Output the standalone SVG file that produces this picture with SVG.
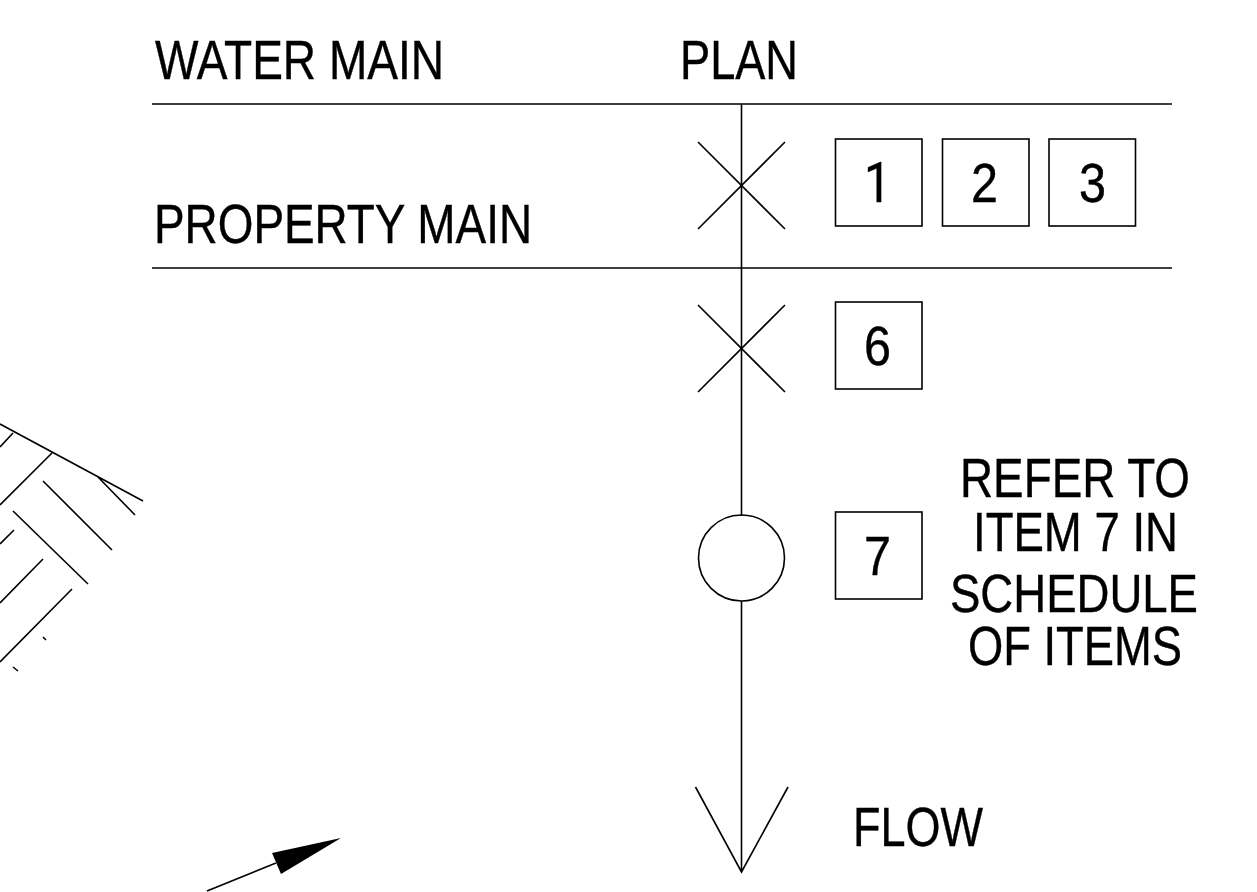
<svg xmlns="http://www.w3.org/2000/svg" width="1257" height="892" viewBox="0 0 1257 892">
<style>
.l{fill:none;stroke:#000;stroke-width:1.6}
text{font-family:"Liberation Sans",Arial,sans-serif;fill:#000;font-size:56px;stroke:#000;stroke-width:.4}
.r{font-family:Roboto,"Liberation Sans",sans-serif;font-size:55px}
</style>
<rect width="1257" height="892" fill="#fff"/>
<g id="connectors">
<path class="l" d="M152 104H1172M152 268H1172M741.500 104V516M741.500 601V872M695.500 787L741.500 872L788 787"/>
<path class="l" d="M698 142L785 229M785 142L698 229M698 305L785 392M785 305L698 392"/>
</g>
<g id="labels">
<text x="155" y="79" textLength="289" lengthAdjust="spacingAndGlyphs">WATER MAIN</text>
<text x="680" y="79" textLength="118" lengthAdjust="spacingAndGlyphs">PLAN</text>
<text x="154" y="243" textLength="378" lengthAdjust="spacingAndGlyphs">PROPERTY MAIN</text>
<text x="960" y="497" textLength="230" lengthAdjust="spacingAndGlyphs">REFER TO</text>
<text x="973" y="551" textLength="205" lengthAdjust="spacingAndGlyphs">ITEM 7 IN</text>
<text x="950" y="612" textLength="248" lengthAdjust="spacingAndGlyphs" style="font-size:53px">SCHEDULE</text>
<text x="968" y="665" textLength="214" lengthAdjust="spacingAndGlyphs">OF ITEMS</text>
<text x="853" y="846" textLength="130" lengthAdjust="spacingAndGlyphs">FLOW</text>
</g>
<g id="n1"><rect class="l" x="835.500" y="139" width="86.500" height="87"/><text class="r" x="864" y="202" textLength="27" lengthAdjust="spacingAndGlyphs">1</text></g>
<g id="n2"><rect class="l" x="942.500" y="139" width="86.500" height="87"/><text x="971" y="202" textLength="27" lengthAdjust="spacingAndGlyphs">2</text></g>
<g id="n3"><rect class="l" x="1049" y="139" width="86.500" height="87"/><text x="1079" y="202" textLength="27" lengthAdjust="spacingAndGlyphs">3</text></g>
<g id="n6"><rect class="l" x="835.500" y="302" width="86.500" height="87"/><text x="864" y="365" textLength="27" lengthAdjust="spacingAndGlyphs">6</text></g>
<g id="n7"><rect class="l" x="835.500" y="512" width="86.500" height="87"/><text x="864" y="575" textLength="27" lengthAdjust="spacingAndGlyphs">7</text></g>
<g id="valve"><circle class="l" cx="741.500" cy="558" r="43"/></g>
<g id="hatch">
<path class="l" d="M0 424L143 501M13 433L0 447M52 453L0 505M97 476L135 515M43 481L112 550M13 511L88 584M14 530L0 544M43 559L0 603M72 589L0 662M43 637L46 640M13 667L18 671"/>
</g>
<g id="north">
<path class="l" d="M207 891L276 863"/>
<path d="M341 838L272 853L281 874Z" fill="#000"/>
</g>
</svg>
